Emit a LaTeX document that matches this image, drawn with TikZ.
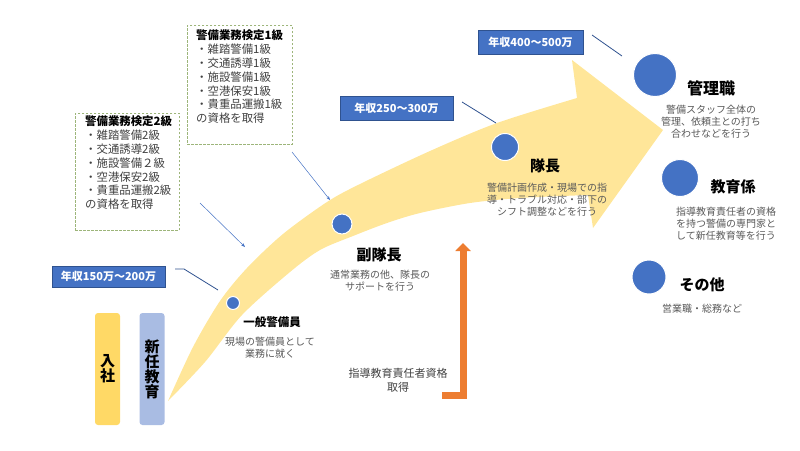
\documentclass[tikz,border=0pt]{standalone}
\usepackage{fontspec}
\setmainfont{Noto Sans CJK JP}
\usetikzlibrary{arrows.meta}

\definecolor{bandyellow}{HTML}{FFE699}
\definecolor{nyushayellow}{HTML}{FFD966}
\definecolor{shinninblue}{HTML}{A9BCE3}
\definecolor{roleblue}{HTML}{4472C4}
\definecolor{salaryedge}{HTML}{2F528F}
\definecolor{dashgreen}{HTML}{9DB57A}
\definecolor{descgray}{HTML}{595959}
\definecolor{itemgray}{HTML}{404040}
\definecolor{shikakuorange}{HTML}{ED7D31}

\begin{document}
\begin{tikzpicture}[x=1pt,y=-1pt]
            \tikzstyle{role}=[circle, fill=roleblue, draw=white, line width=1pt, inner sep=0pt];
            \tikzstyle{title}=[font=\fontsize{15}{17}\selectfont\bfseries];
            \tikzstyle{desc}=[align=center, text=descgray, inner sep=0pt, font=\fontsize{10}{11.8}\selectfont];
            \tikzstyle{salary}=[fill=roleblue, draw=salaryedge, text=white, inner sep=0pt, font=\fontsize{11}{12}\selectfont\bfseries];
            \tikzstyle{kentei}=[draw=dashgreen, dash pattern=on 2.5pt off 1.5pt, line width=0.9pt, anchor=north west];
            \tikzstyle{kenteitext}=[anchor=north west, align=left, inner sep=0pt, text=itemgray, font=\fontsize{11.4}{13.8}\selectfont];
            \tikzstyle{pointer}=[roleblue, line width=0.5pt, -{Stealth[length=4pt,width=3pt]}];
            \tikzstyle{salaryline}=[salaryedge, line width=0.8pt];
            \tikzstyle{stage}=[rounded corners=3pt, minimum width=25pt, minimum height=112pt, inner sep=0pt, align=center, font=\fontsize{15}{15}\selectfont\bfseries];

            \useasboundingbox (0,0) rectangle (800,450);

            \fill[bandyellow] plot[smooth] coordinates {(168,401) (193,347) (220,301) (247,268) (283,234) (327,202) (360,184) (430,151) (497,123) (577,98)}
                -- (572,60) -- (663,130) -- (593,228)
                -- plot[smooth] coordinates {(588,195) (520,198) (470,203) (420,213) (387,223) (353,236) (320,250) (290,272) (242,315) (205,362) (168,401)} -- cycle;

            \node[stage, fill=nyushayellow] (nyusha) at (107.5,369) {入\\社};
            \node[stage, fill=shinninblue] (shinnin) at (152,369) {新\\任\\教\\育};

            \node[role, minimum size=13pt] (ippan) at (233,303) {};
            \node[role, minimum size=20pt] (fuku) at (342,224) {};
            \node[role, minimum size=27pt] (taicho) at (505,147) {};
            \node[role, minimum size=43pt] (kanri) at (655,75) {};
            \node[role, minimum size=37pt] (kyoiku) at (680,178) {};
            \node[role, minimum size=34pt] (sonota) at (649,277) {};

            \node[title, font=\fontsize{11.5}{13}\selectfont\bfseries] (ippantitle) at (272,322) {一般警備員};
            \node[title] (fukutitle) at (379,255) {副隊長};
            \node[title] (taichotitle) at (545,166) {隊長};
            \node[title, font=\fontsize{16}{18}\selectfont\bfseries] (kanrititle) at (711,88) {管理職};
            \node[title] (kyoikutitle) at (733,187) {教育係};
            \node[title] (sonotatitle) at (702,285) {その他};

            \node[desc] (ippandesc) at (270,348) {現場の警備員として\\業務に就く};
            \node[desc] (fukudesc) at (380,281) {通常業務の他、隊長の\\サポートを行う};
            \node[desc] (taichodesc) at (547,200) {警備計画作成・現場での指\\導・トラブル対応・部下の\\シフト調整などを行う};
            \node[desc] (kanridesc) at (711,121.5) {警備スタッフ全体の\\管理、依頼主との打ち\\合わせなどを行う};
            \node[desc] (kyoikudesc) at (726,223.5) {指導教育責任者の資格\\を持つ警備の専門家と\\して新任教育等を行う};
            \node[desc] (sonotadesc) at (702,309) {営業職・総務など};

            \node[salary, minimum width=113pt, minimum height=21pt] (salary1) at (108.5,276.5) {年収150万～200万};
            \node[salary, minimum width=113pt, minimum height=24pt] (salary2) at (396.5,108) {年収250～300万};
            \node[salary, minimum width=105pt, minimum height=24pt] (salary3) at (530.5,42) {年収400～500万};

            \coordinate (salary1from) at (175,269);
            \coordinate (salary1to) at (218,290);
            \coordinate (salary2from) at (462,102);
            \coordinate (salary2to) at (496,123);
            \coordinate (salary3from) at (592,35);
            \coordinate (salary3to) at (622,56);
            \draw[salaryline] (salary1from) -- ++(9,0) -- (salary1to);
            \draw[salaryline] (salary2from) -- (salary2to);
            \draw[salaryline] (salary3from) -- (salary3to);

            \node[kentei, minimum width=104pt, minimum height=117pt] (kentei2) at (75,113) {};
            \node[kenteitext] (kentei2text) at ([shift={(10,3)}]kentei2.north west) {{\color{black}\bfseries 警備業務検定2級}\\・雑踏警備2級\\・交通誘導2級\\・施設警備２級\\・空港保安2級\\・貴重品運搬2級\\の資格を取得};
            \node[kentei, minimum width=105pt, minimum height=119pt] (kentei1) at (187,25) {};
            \node[kenteitext] (kentei1text) at ([shift={(9,5)}]kentei1.north west) {{\color{black}\bfseries 警備業務検定1級}\\・雑踏警備1級\\・交通誘導1級\\・施設警備1級\\・空港保安1級\\・貴重品運搬1級\\の資格を取得};

            \coordinate (kentei2from) at (200,203);
            \coordinate (kentei2to) at (245,247);
            \coordinate (kentei1from) at (292,152);
            \coordinate (kentei1to) at (330,200);
            \draw[pointer] (kentei2from) -- (kentei2to);
            \draw[pointer] (kentei1from) -- (kentei1to);

            \coordinate (shikakufrom) at (442,395);
            \coordinate (shikakuto) at (463,243);
            \draw[shikakuorange, line width=7pt, -{Triangle[length=8pt,width=15pt]}] (shikakufrom) -| (shikakuto);
            \node[desc, text=itemgray, font=\fontsize{11}{14}\selectfont] (shikakutext) at (398,380) {指導教育責任者資格\\取得};
\end{tikzpicture}
\end{document}
